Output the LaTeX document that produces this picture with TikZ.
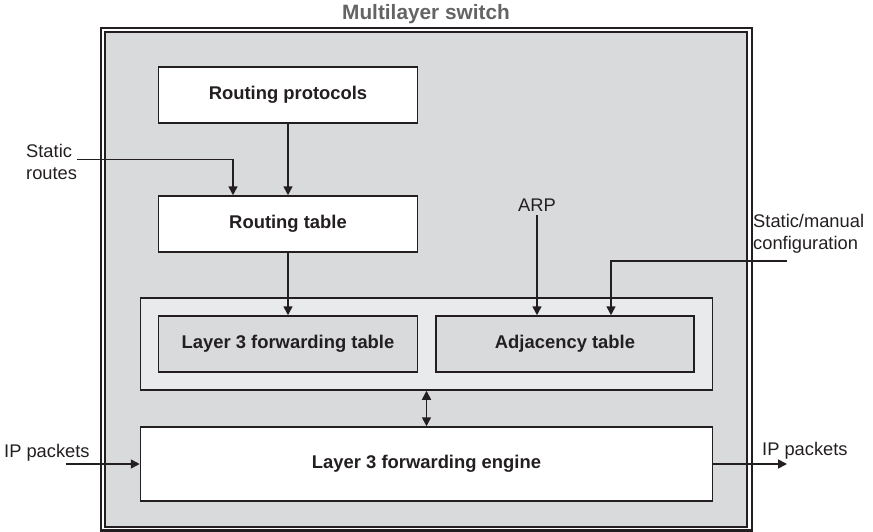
\documentclass[tikz,border=0pt]{standalone}
\usepackage{fontspec}
\setmainfont{Liberation Sans}
\usetikzlibrary{arrows.meta}

\definecolor{panelgray}{RGB}{217,218,220}
\definecolor{lightpanel}{RGB}{233,234,236}
\definecolor{inkline}{RGB}{35,31,32}
\definecolor{titlegray}{RGB}{100,100,100}

\tikzset{
  blockbox/.style={draw=inkline, line width=1.5pt, fill=white, inner sep=0pt,
    font=\fontsize{18.4}{22}\selectfont\bfseries, text=inkline},
  tablebox/.style={blockbox, fill=panelgray},
  holder/.style={draw=inkline, line width=1.5pt, fill=lightpanel, inner sep=0pt},
  plainlabel/.style={inner sep=0pt, align=left, text=inkline,
    font=\fontsize{18.3}{22}\selectfont},
  arr/.style={draw=inkline, line width=1.6pt, -{Triangle[length=9pt,width=9pt]}},
  dblarr/.style={draw=inkline, line width=1.6pt,
    {Triangle[length=9pt,width=9pt]}-{Triangle[length=9pt,width=9pt]}},
}

\begin{document}
\begin{tikzpicture}[x=1pt,y=-1pt]
\useasboundingbox (0,0) rectangle (873,532);

% switch enclosure: double frame around a gray panel
\fill[panelgray] (105,32) rectangle (747,527);
\draw[inkline, line width=2.4pt] (101,28) rectangle (752,530.5);
\draw[inkline, line width=1.5pt] (105,32) rectangle (747,527);
\node[inner sep=0pt, anchor=base, text=titlegray,
      font=\fontsize{20.8}{24}\selectfont\bfseries] (title) at (426,20) {Multilayer switch};

% control plane blocks
\node[blockbox, minimum width=259pt, minimum height=56pt] (rp) at (288,95) {Routing protocols};
\node[blockbox, minimum width=259pt, minimum height=56pt] (rt) at (288,224) {Routing table};

% table holder with its two tables
\node[holder, minimum width=572pt, minimum height=92pt] (cont) at (426.5,344) {};
\node[tablebox, minimum width=259pt, minimum height=56pt] (l3) at (288,344) {Layer 3 forwarding table};
\node[tablebox, minimum width=258pt, minimum height=56pt] (adj) at (565,344) {Adjacency table};

% data plane
\node[blockbox, minimum width=572pt, minimum height=74pt] (eng) at (426.5,464) {Layer 3 forwarding engine};

% outside labels
\node[plainlabel, anchor=north west] (srlab) at (26,144) {Static\\routes};
\node[plainlabel, anchor=base] (arp) at (537,211.5) {ARP};
\node[plainlabel, anchor=north west] (smlab) at (753,214) {Static/manual\\configuration};
\node[plainlabel, anchor=base west] (ipin) at (4,457.5) {IP packets};
\node[plainlabel, anchor=base west] (ipout) at (762,455) {IP packets};

\coordinate (srstart) at (77,159.5);
\coordinate (smstart) at (787,261);
\coordinate (instart) at (66,464);
\coordinate (outend) at (787,464);

% connectors
\draw[arr] (rp.south) -- (rt.north);
\draw[arr] (srstart) -| ([xshift=-55pt]rt.north);
\draw[arr] (rt.south) -- (l3.north);
\draw[arr] ([yshift=-3.5pt]arp.south) -- (arp.south |- adj.north);
\draw[arr] (smstart) -| ([xshift=46pt]adj.north);
\draw[dblarr] (cont.south) -- (eng.north);
\draw[arr] (instart) -- (eng.west);
\draw[arr] (eng.east) -- (outend);
\end{tikzpicture}
\end{document}
